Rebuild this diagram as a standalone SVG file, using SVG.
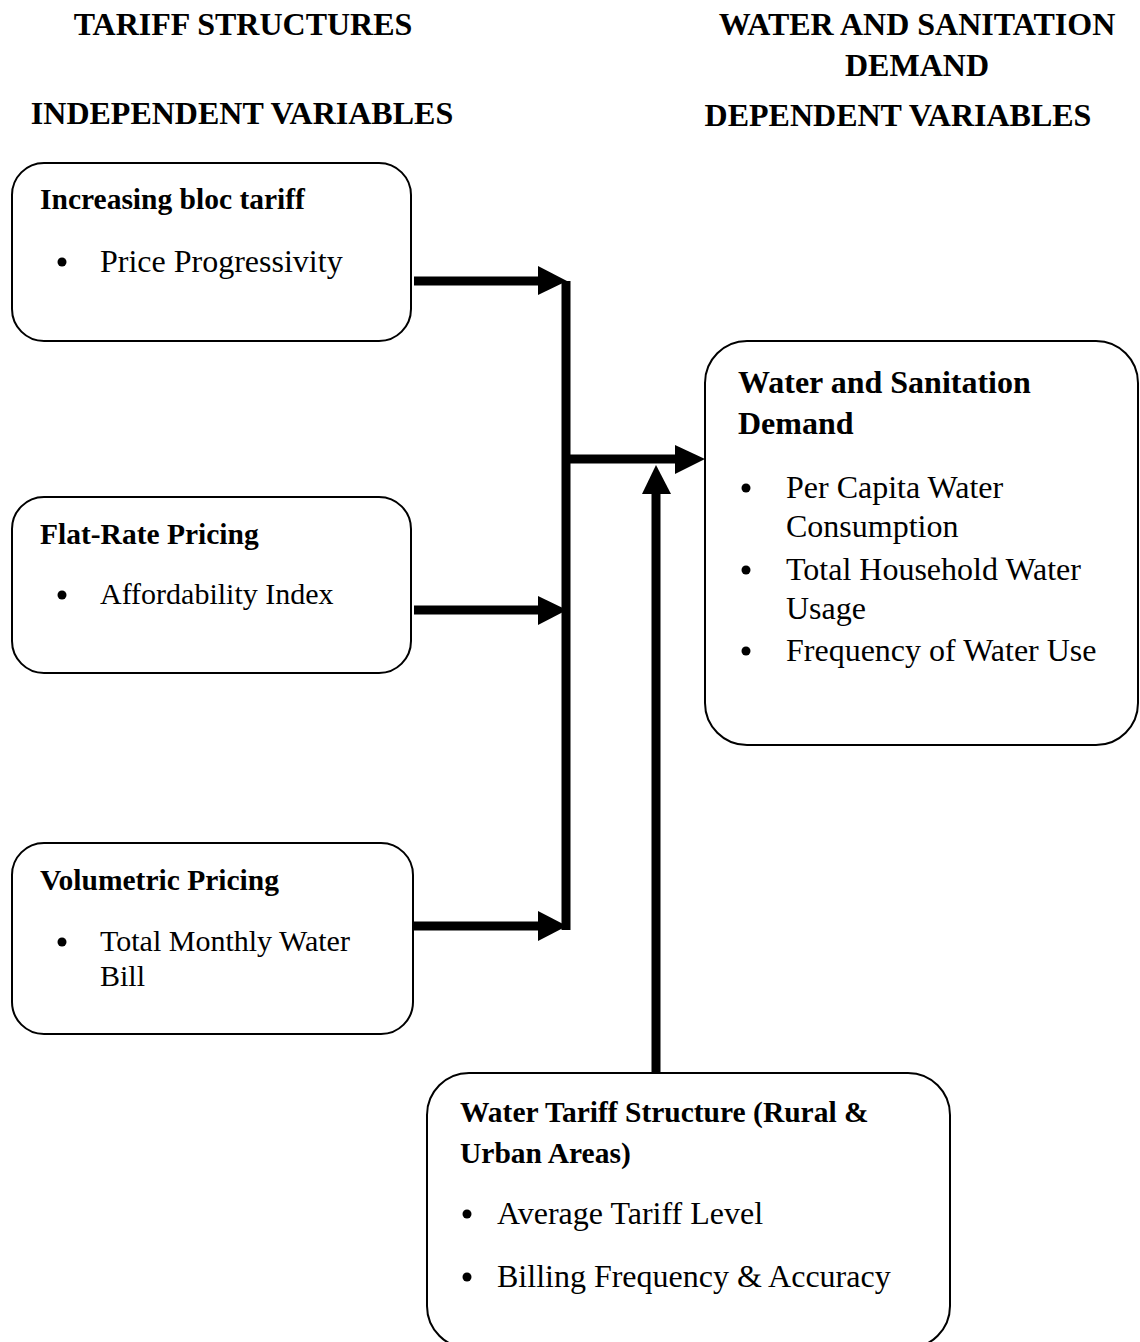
<svg xmlns="http://www.w3.org/2000/svg" width="1140" height="1342" viewBox="0 0 1140 1342">
<style>
.hdr{font-family:"Liberation Serif","Times New Roman",serif;font-weight:bold;font-size:32px;fill:#000;text-anchor:middle}
.ttl{font-family:"Liberation Serif","Times New Roman",serif;font-weight:bold;font-size:29.5px;fill:#000}
.ttlL{font-family:"Liberation Serif","Times New Roman",serif;font-weight:bold;font-size:32px;fill:#000}
.itm{font-family:"Liberation Serif","Times New Roman",serif;font-size:32px;fill:#000}
.itmS{font-family:"Liberation Serif","Times New Roman",serif;font-size:30px;fill:#000}
.box{fill:#fff;stroke:#000;stroke-width:2}
.bul{fill:#000}
.ln{stroke:#000;stroke-width:9;fill:none}
.ah{fill:#000}
</style>
<rect width="1140" height="1342" fill="#fff"/>
<g id="headers">
<text class="hdr" x="243" y="35">TARIFF STRUCTURES</text>
<text class="hdr" x="242" y="124">INDEPENDENT VARIABLES</text>
<text class="hdr" x="917" y="35">WATER AND SANITATION</text>
<text class="hdr" x="917" y="76">DEMAND</text>
<text class="hdr" x="898" y="126">DEPENDENT VARIABLES</text>
</g>
<g id="node-increasing">
<rect class="box" x="12" y="163" width="399" height="178" rx="32"/>
<text class="ttl" x="40" y="209">Increasing bloc tariff</text>
<circle class="bul" cx="62" cy="262" r="4.5"/>
<text class="itm" x="100" y="272">Price Progressivity</text>
</g>
<g id="node-flat">
<rect class="box" x="12" y="497" width="399" height="176" rx="32"/>
<text class="ttl" x="40" y="544">Flat-Rate Pricing</text>
<circle class="bul" cx="62" cy="595" r="4.5"/>
<text class="itmS" x="100" y="604" font-size="29.5">Affordability Index</text>
</g>
<g id="node-volumetric">
<rect class="box" x="12" y="843" width="401" height="191" rx="32"/>
<text class="ttl" x="40" y="890">Volumetric Pricing</text>
<circle class="bul" cx="62" cy="942" r="4.5"/>
<text class="itmS" x="100" y="951">Total Monthly Water</text>
<text class="itmS" x="100" y="986">Bill</text>
</g>
<g id="node-demand">
<rect class="box" x="705" y="341" width="433" height="404" rx="42"/>
<text class="ttlL" x="738" y="393">Water and Sanitation</text>
<text class="ttlL" x="738" y="434">Demand</text>
<circle class="bul" cx="746" cy="488" r="4.5"/>
<text class="itm" x="786" y="498">Per Capita Water</text>
<text class="itm" x="786" y="537">Consumption</text>
<circle class="bul" cx="746" cy="570" r="4.5"/>
<text class="itm" x="786" y="580">Total Household Water</text>
<text class="itm" x="786" y="619">Usage</text>
<circle class="bul" cx="746" cy="651" r="4.5"/>
<text class="itm" x="786" y="661">Frequency of Water Use</text>
</g>
<g id="node-tariff-structure">
<rect class="box" x="427" y="1073" width="523" height="275" rx="42"/>
<text class="ttl" x="460" y="1122">Water Tariff Structure (Rural &amp;</text>
<text class="ttl" x="460" y="1163">Urban Areas)</text>
<circle class="bul" cx="467" cy="1214" r="4.5"/>
<text class="itm" x="497" y="1224">Average Tariff Level</text>
<circle class="bul" cx="467" cy="1277" r="4.5"/>
<text class="itm" x="497" y="1287">Billing Frequency &amp; Accuracy</text>
</g>
<g id="connectors">
<line class="ln" x1="414" y1="281" x2="540" y2="281"/>
<polygon class="ah" points="538,266 567,281 538,295"/>
<line class="ln" x1="414" y1="610" x2="540" y2="610"/>
<polygon class="ah" points="538,596 567,610 538,625"/>
<line class="ln" x1="414" y1="926" x2="540" y2="926"/>
<polygon class="ah" points="538,911 567,926 538,941"/>
<line class="ln" x1="566" y1="281" x2="566" y2="930"/>
<line class="ln" x1="566" y1="459" x2="678" y2="459" stroke-width="10"/>
<polygon class="ah" points="675,445 705,459 675,474"/>
<line class="ln" x1="656" y1="1073" x2="656" y2="492" stroke-width="10"/>
<polygon class="ah" points="642,494 656,465 671,494"/>
</g>
</svg>
